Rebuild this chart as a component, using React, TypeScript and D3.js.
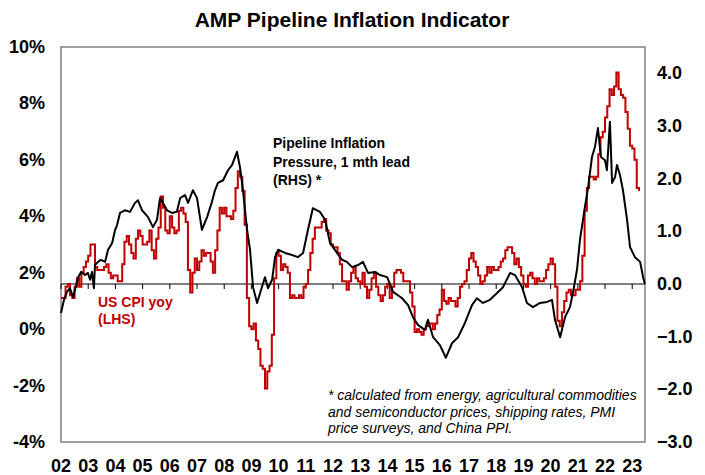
import React from 'react';
import * as d3 from 'd3';

// US CPI yoy, % (LHS), monthly Jan 2002 .. Apr 2023
const cpiYoy = [
  1.1, 1.1, 1.5, 1.6, 1.2, 1.1, 1.5, 1.8, 1.5, 2.0, 2.2, 2.4,
  2.6, 3.0, 3.0, 2.2, 2.1, 2.1, 2.1, 2.2, 2.3, 2.0, 1.8, 1.9,
  1.9, 1.7, 1.7, 2.3, 3.1, 3.3, 3.0, 2.7, 2.5, 3.2, 3.5, 3.3,
  3.0, 3.0, 3.1, 3.5, 2.8, 2.5, 3.2, 3.6, 4.7, 4.3, 3.5, 3.4,
  4.0, 3.6, 3.4, 3.5, 4.2, 4.3, 4.1, 3.8, 2.1, 1.3, 2.0, 2.5,
  2.1, 2.4, 2.8, 2.6, 2.7, 2.7, 2.4, 2.0, 2.8, 3.5, 4.3, 4.1,
  4.3, 4.0, 4.0, 3.9, 4.2, 5.0, 5.6, 5.4, 4.9, 3.7, 1.1, 0.1,
  0.0, 0.2, -0.4, -0.7, -1.3, -1.4, -2.1, -1.5, -1.3, -0.2, 1.8, 2.7,
  2.6, 2.1, 2.3, 2.2, 2.0, 1.1, 1.2, 1.1, 1.1, 1.2, 1.1, 1.5,
  1.6, 2.1, 2.7, 3.2, 3.6, 3.6, 3.6, 3.8, 3.9, 3.5, 3.4, 3.0,
  2.9, 2.9, 2.7, 2.3, 1.7, 1.7, 1.4, 1.7, 2.0, 2.2, 1.8, 1.7,
  1.6, 2.0, 1.5, 1.1, 1.4, 1.8, 2.0, 1.5, 1.2, 1.0, 1.2, 1.5,
  1.6, 1.1, 1.5, 2.0, 2.1, 2.1, 2.0, 1.7, 1.7, 1.7, 1.3, 0.8,
  -0.1, 0.0, -0.1, -0.2, 0.0, 0.1, 0.2, 0.2, 0.0, 0.2, 0.5, 0.7,
  1.4, 1.0, 0.9, 1.1, 1.0, 1.0, 0.8, 1.1, 1.5, 1.6, 1.7, 2.1,
  2.5, 2.7, 2.4, 2.2, 1.9, 1.6, 1.7, 1.9, 2.2, 2.0, 2.2, 2.1,
  2.1, 2.2, 2.4, 2.5, 2.8, 2.9, 2.9, 2.7, 2.3, 2.5, 2.2, 1.9,
  1.6, 1.5, 1.9, 2.0, 1.8, 1.6, 1.8, 1.7, 1.7, 1.8, 2.1, 2.3,
  2.5, 2.3, 1.5, 0.3, 0.1, 0.6, 1.0, 1.3, 1.4, 1.2, 1.2, 1.4,
  1.4, 1.7, 2.6, 4.2, 5.0, 5.4, 5.4, 5.3, 5.4, 6.2, 6.8, 7.0,
  7.5, 7.9, 8.5, 8.3, 8.6, 9.1, 8.5, 8.3, 8.2, 7.7, 7.1, 6.5,
  6.4, 6.0, 5.0, 4.9,
];

// Pipeline inflation pressure (RHS)
const pipeDates = [
  2002.0, 2002.11, 2002.22, 2002.33, 2002.44, 2002.55, 2002.63, 2002.74, 2002.88, 2002.99,
  2003.07, 2003.14, 2003.21, 2003.25, 2003.36, 2003.47, 2003.62, 2003.73, 2003.88, 2003.99,
  2004.06, 2004.17, 2004.35, 2004.54, 2004.72, 2004.83, 2004.98, 2005.2, 2005.38, 2005.53,
  2005.64, 2005.75, 2005.9, 2006.08, 2006.26, 2006.38, 2006.56, 2006.67, 2006.85, 2007.0,
  2007.18, 2007.37, 2007.55, 2007.66, 2007.77, 2007.96, 2008.14, 2008.29, 2008.47, 2008.58,
  2008.69, 2008.84, 2008.95, 2009.06, 2009.21, 2009.32, 2009.5, 2009.61, 2009.76, 2009.87,
  2009.98, 2010.24, 2010.49, 2010.71, 2010.9, 2011.08, 2011.26, 2011.52, 2011.71, 2011.89,
  2012.15, 2012.33, 2012.51, 2012.7, 2012.92, 2013.1, 2013.29, 2013.54, 2013.73, 2013.99,
  2014.21, 2014.54, 2014.76, 2014.94, 2015.13, 2015.38, 2015.49, 2015.68, 2015.93, 2016.15,
  2016.38, 2016.6, 2016.85, 2017.11, 2017.29, 2017.51, 2017.77, 2018.03, 2018.25, 2018.51,
  2018.69, 2018.95, 2019.13, 2019.35, 2019.61, 2019.87, 2020.05, 2020.16, 2020.35, 2020.53,
  2020.71, 2020.82, 2020.97, 2021.08, 2021.26, 2021.38, 2021.52, 2021.63, 2021.74, 2021.85,
  2022.0, 2022.07, 2022.18, 2022.26, 2022.37, 2022.44, 2022.55, 2022.66, 2022.81, 2022.92,
  2023.1, 2023.29, 2023.4, 2023.47,
];
const pipeValues = [
  -0.55, -0.3, -0.15, -0.08, -0.25, -0.04, 0.13, 0.23, 0.17, 0.21,
  0.08, 0.23, -0.08, 0.36, 0.42, 0.46, 0.42, 0.65, 0.78, 1.03,
  1.12, 1.35, 1.4, 1.37, 1.54, 1.59, 1.4, 1.27, 1.08, 1.22,
  1.63, 1.54, 1.4, 1.35, 1.37, 1.63, 1.69, 1.54, 1.78, 1.63,
  1.03, 1.27, 1.56, 1.78, 1.92, 1.97, 2.16, 2.26, 2.51, 2.22,
  1.78, 1.03, 0.65, -0.06, -0.36, -0.17, 0.13, -0.08, 0.08, 0.51,
  0.65, 0.59, 0.55, 0.51, 0.59, 1.03, 1.44, 1.37, 1.22, 0.78,
  0.59, 0.46, 0.42, 0.32, 0.36, 0.42, 0.21, 0.23, 0.17, 0.13,
  -0.15, -0.27, -0.4, -0.63, -0.78, -0.87, -0.68, -1.01, -1.16, -1.4,
  -1.12, -1.01, -0.74, -0.4, -0.27, -0.36, -0.3, -0.17, -0.06, 0.21,
  0.17, -0.06, -0.36, -0.44, -0.36, -0.34, -0.3, -0.68, -1.01, -0.63,
  -0.44, -0.17, 0.27, 0.84, 1.46, 1.84, 2.41, 2.6, 2.96, 2.41,
  2.35, 2.16, 3.08, 1.92, 2.03, 2.26, 2.07, 1.78, 1.22, 0.7,
  0.51, 0.42, 0.13, 0.0,
];

const years = d3.range(2002, 2024);
const leftTicks = [-4, -2, 0, 2, 4, 6, 8, 10];
const rightTicks = [-3, -2, -1, 0, 1, 2, 3, 4];

const footnote = [
  '* calculated from energy, agricultural commodities',
  'and semiconductor prices, shipping rates, PMI',
  'price surveys, and China PPI.',
];

const W = 705;
const H = 475;
const left = 61;
const right = 645;
const top = 47;
const bottom = 442;

export default function App() {
  const x = d3.scaleLinear().domain([2002, 2023.47]).range([left, right]);
  const yL = d3.scaleLinear().domain([-4, 10]).range([bottom, top]);
  const yR = d3.scaleLinear().domain([-3, 4.5]).range([bottom, top]);

  const cpi = cpiYoy.map((v, i) => ({ t: 2002 + i / 12, v }));
  const pipe = pipeDates.map((t, i) => ({ t, v: pipeValues[i] }));

  const cpiLine = d3.line<{ t: number; v: number }>()
    .x(d => x(d.t))
    .y(d => yL(d.v))
    .curve(d3.curveStepAfter);

  const pipeLine = d3.line<{ t: number; v: number }>()
    .x(d => x(d.t))
    .y(d => yR(d.v));

  const font = 'Arial, "Liberation Sans", sans-serif';
  const zeroY = yR(0);

  return (
    <div style={{ position: 'absolute', left: 0, top: 0 }}>
      <svg width={W} height={H} style={{ display: 'block', fontFamily: font }}>
        <rect width={W} height={H} fill="#fff" />
        <text x={352} y={27} textAnchor="middle" fontSize={21} fontWeight="bold">
          AMP Pipeline Inflation Indicator
        </text>

        <rect x={left} y={top} width={right - left} height={bottom - top}
          fill="none" stroke="#808080" strokeWidth={1.5} />

        <line x1={left} x2={right} y1={zeroY} y2={zeroY} stroke="#000" strokeWidth={1} />
        {years.map(yr => (
          <line key={yr} x1={x(yr)} x2={x(yr)} y1={zeroY} y2={zeroY + 5} stroke="#000" strokeWidth={1} />
        ))}

        <path d={cpiLine(cpi) || ''} fill="none" stroke="#c00000" strokeWidth={2} />
        <path d={pipeLine(pipe) || ''} fill="none" stroke="#000" strokeWidth={2} strokeLinejoin="round" />

        {leftTicks.map(v => (
          <text key={v} x={45} y={yL(v) + 6} textAnchor="end" fontSize={18} fontWeight="bold">
            {v + '%'}
          </text>
        ))}
        {rightTicks.map(v => (
          <text key={v} x={657} y={yR(v) + 6} textAnchor="start" fontSize={18} fontWeight="bold">
            {d3.format('.1f')(v)}
          </text>
        ))}
        {years.map(yr => (
          <text key={yr} x={x(yr)} y={472} textAnchor="middle" fontSize={18} fontWeight="bold">
            {String(yr % 100).padStart(2, '0')}
          </text>
        ))}

        <text x={273} y={148} fontSize={14} fontWeight="bold">
          <tspan x={273}>Pipeline Inflation</tspan>
          <tspan x={273} dy={18.5}>Pressure, 1 mth lead</tspan>
          <tspan x={273} dy={18.5}>(RHS) *</tspan>
        </text>
        <text x={98} y={307} fontSize={14} fontWeight="bold" fill="#c00000">
          <tspan x={98}>US CPI yoy</tspan>
          <tspan x={98} dy={17}>(LHS)</tspan>
        </text>
        <text x={328} y={400} fontSize={14} fontStyle="italic">
          {footnote.map((s, i) => (
            <tspan key={i} x={328} dy={i === 0 ? 0 : 16.5}>{s}</tspan>
          ))}
        </text>
      </svg>
    </div>
  );
}
